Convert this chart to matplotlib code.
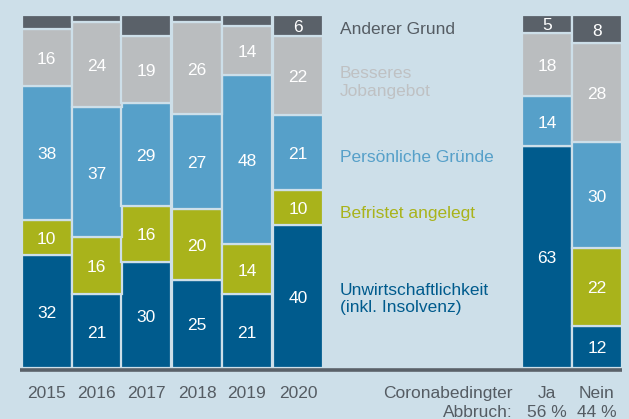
import matplotlib.pyplot as plt
import numpy as np

plt.rcParams['font.family'] = ['Liberation Sans', 'DejaVu Sans']

# data (shares in %)
kategorien = ["2015", "2016", "2017", "2018", "2019", "2020", "Ja", "Nein"]
unwirtschaftlich = [32, 21, 30, 25, 21, 40, 63, 12]
befristet = [10, 16, 16, 20, 14, 10, 0, 22]
persoenlich = [38, 37, 29, 27, 48, 21, 14, 30]
besseres_job = [16, 24, 19, 26, 14, 22, 18, 28]
anderer = [4, 2, 6, 2, 3, 6, 5, 8]
anderer_labels = ["", "", "", "", "", "6", "5", "8"]
anteil_labels = ["", "", "", "", "", "", "56 %", "44 %"]

serien = [
    ("Unwirtschaftlichkeit\n(inkl. Insolvenz)", unwirtschaftlich, "#005b8d"),
    ("Befristet angelegt", befristet, "#a9b31b"),
    ("Persönliche Gründe", persoenlich, "#56a0c9"),
    ("Besseres\nJobangebot", besseres_job, "#babdbf"),
    ("Anderer Grund", anderer, "#5a6169"),
]

bg = "#cddfe9"
txt_grau = "#555c63"
fs = 12.5

# layout in pixels
x_pos = np.array([46.5, 96.5, 146, 197, 247, 298, 547, 597])
breite = 50
base_px, top_px = 368, 15
pro = (base_px - top_px) / 100.0

fig = plt.figure(figsize=(6.29, 4.19), dpi=100, facecolor=bg)
ax = fig.add_axes([0, 0, 1, 1])
ax.set_facecolor(bg)
ax.set_xlim(0, 629)
ax.set_ylim(-(419 - base_px) / pro, 100 + top_px / pro)
ax.axis('off')

summen = np.sum([s[1] for s in serien], axis=0)
unten = np.zeros(len(kategorien))
for name, werte, farbe in serien:
    w = np.array(werte) * 100.0 / summen
    ax.bar(x_pos, w, width=breite, bottom=unten, color=farbe,
           edgecolor=bg, linewidth=1.6)
    for i, v in enumerate(werte):
        if v == 0:
            continue
        if werte is anderer:
            lab = anderer_labels[i]
        else:
            lab = str(v)
        if lab:
            ax.text(x_pos[i], unten[i] + w[i] / 2 - 0.6, lab, ha='center',
                    va='center', color='white', fontsize=fs)
    unten += w

# baseline
ax.plot([20, 622], [-0.6, -0.6], color="#5a6169", linewidth=2.6,
        solid_capstyle='butt')

# category labels
y1 = -(393 - base_px) / pro
y2 = -(412 - base_px) / pro
for i, k in enumerate(kategorien):
    ax.text(x_pos[i], y1, k, ha='center', va='center', color=txt_grau,
            fontsize=fs)
    if anteil_labels[i]:
        ax.text(x_pos[i], y2, anteil_labels[i], ha='center', va='center',
                color=txt_grau, fontsize=fs)
ax.text(513, y1, "Coronabedingter", ha='right', va='center',
        color=txt_grau, fontsize=fs)
ax.text(513, y2, "Abbruch:", ha='right', va='center',
        color=txt_grau, fontsize=fs)

# legend labels next to the bars
legende_y = [(base_px - 299) / pro, (base_px - 213) / pro,
             (base_px - 157) / pro, (base_px - 82.5) / pro,
             (base_px - 30) / pro]
legende_farben = ["#005b8d", "#a9b31b", "#56a0c9", "#bfc1c3", "#555c63"]
for (name, werte, farbe), y, fc in zip(serien, legende_y, legende_farben):
    ax.text(340, y, name, ha='left', va='center', color=fc, fontsize=fs,
            linespacing=1.2)

fig.savefig("out.png", dpi=100, facecolor=bg)
